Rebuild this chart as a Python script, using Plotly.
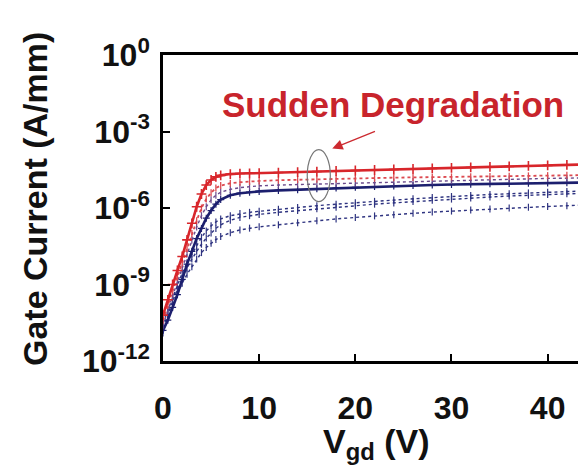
import plotly.graph_objects as go

# Gate voltage points (V)
vgd = [0, 0.5, 1, 1.5, 2, 2.5, 3, 3.5, 4, 4.5, 5, 5.5, 6, 7, 8, 9, 10,
       12, 14, 16, 18, 20, 22, 24, 26, 28, 30, 32, 34, 36, 38, 40, 42, 44]

# log10 of gate current (A/mm)
red_solid = [-10.2, -9.6, -9.0, -8.45, -7.9, -7.25, -6.6, -5.95, -5.45, -5.1, -4.9, -4.78, -4.72, -4.67, -4.65, -4.64, -4.63,
             -4.61, -4.59, -4.57, -4.55, -4.53, -4.51, -4.49, -4.47, -4.45, -4.43, -4.41, -4.39, -4.37, -4.35, -4.33, -4.31, -4.29]
red_dotted = [-10.4, -9.8, -9.25, -8.7, -8.15, -7.6, -7.0, -6.5, -6.0, -5.65, -5.4, -5.22, -5.12, -5.03, -4.99, -4.96, -4.94,
              -4.91, -4.89, -4.87, -4.86, -4.84, -4.83, -4.81, -4.80, -4.79, -4.78, -4.77, -4.76, -4.75, -4.74, -4.73, -4.72, -4.71]
purple_dotted = [-10.6, -10.0, -9.45, -8.9, -8.35, -7.8, -7.25, -6.75, -6.3, -5.95, -5.68, -5.5, -5.38, -5.27, -5.2, -5.16, -5.13,
                 -5.1, -5.08, -5.06, -5.04, -5.02, -5.0, -4.98, -4.96, -4.94, -4.92, -4.90, -4.88, -4.86, -4.85, -4.84, -4.83, -4.82]
blue_solid = [-10.8, -10.4, -9.9, -9.4, -8.8, -8.2, -7.7, -7.2, -6.8, -6.4, -6.1, -5.85, -5.67, -5.5, -5.42, -5.38, -5.35,
              -5.31, -5.28, -5.25, -5.22, -5.19, -5.16, -5.14, -5.12, -5.10, -5.08, -5.07, -5.05, -5.04, -5.03, -5.02, -5.01, -5.0]
blue_dotted_1 = [-10.5, -10.0, -9.5, -9.0, -8.55, -8.15, -7.8, -7.45, -7.15, -6.9, -6.7, -6.55, -6.43, -6.3, -6.22, -6.17, -6.13,
                 -6.05, -5.98, -5.91, -5.85, -5.79, -5.74, -5.69, -5.64, -5.59, -5.55, -5.51, -5.47, -5.44, -5.41, -5.38, -5.35, -5.33]
blue_dotted_2 = [-10.7, -10.15, -9.65, -9.2, -8.75, -8.35, -8.0, -7.7, -7.42, -7.18, -6.98, -6.8, -6.66, -6.48, -6.37, -6.3, -6.25,
                 -6.17, -6.1, -6.03, -5.97, -5.91, -5.85, -5.8, -5.75, -5.7, -5.65, -5.61, -5.57, -5.53, -5.5, -5.47, -5.44, -5.42]
blue_dotted_3 = [-10.9, -10.3, -9.8, -9.35, -8.95, -8.6, -8.3, -8.0, -7.75, -7.55, -7.38, -7.24, -7.12, -6.97, -6.86, -6.79, -6.74,
                 -6.66, -6.58, -6.5, -6.43, -6.37, -6.31, -6.26, -6.21, -6.16, -6.12, -6.08, -6.04, -6.0, -5.97, -5.94, -5.91, -5.88]

y_tickvals = [1e-12, 1e-9, 1e-6, 1e-3, 1]
y_ticktext = ["10<sup>-12</sup>", "10<sup>-9</sup>", "10<sup>-6</sup>", "10<sup>-3</sup>", "10<sup>0</sup>"]
x_tickvals = [0, 10, 20, 30, 40]
x_ticktext = ["0", "10", "20", "30", "40"]

RED = "#d8262b"
LRED = "#dc4a50"
PURP = "#6b4a8c"
NAVY = "#1c1f6e"
BLUE = "#2e3380"

def lin(v):
    return [10 ** a for a in v]

fig = go.Figure()

def add(ys, color, dash, width, symbol, msize, mw):
    fig.add_trace(go.Scatter(
        x=vgd, y=lin(ys), mode="lines+markers",
        line=dict(color=color, width=width, dash=dash),
        marker=dict(symbol=symbol, size=msize, color=color, line=dict(color=color, width=mw)),
        showlegend=False))

add(blue_dotted_3, BLUE, "dot", 1.4, "line-ns-open", 5, 1.2)
add(blue_dotted_2, BLUE, "dot", 1.4, "line-ns-open", 5, 1.2)
add(blue_dotted_1, BLUE, "dot", 1.4, "line-ns-open", 5, 1.2)
add(blue_solid, NAVY, "solid", 2.6, "cross-thin-open", 5, 1.2)
add(purple_dotted, PURP, "dot", 1.4, "line-ns-open", 5, 1.2)
add(red_dotted, LRED, "dot", 1.8, "line-ns-open", 5, 1.3)
add(red_solid, RED, "solid", 2.6, "cross-thin-open", 7, 1.6)

FONT = "Liberation Sans, Arial, sans-serif"

fig.update_layout(
    width=586, height=466,
    margin=dict(l=155, r=2, t=47, b=113),
    paper_bgcolor="white", plot_bgcolor="white",
    xaxis=dict(
        range=[0, 44.3], tickvals=x_tickvals, ticktext=x_ticktext,
        ticks="inside", ticklen=7, tickwidth=2, tickcolor="black",
        showline=True, linecolor="black", linewidth=2.5, mirror=True,
        showgrid=False, zeroline=False,
        tickfont=dict(family=FONT, size=32, color="#111", weight="bold"),
        ticklabelstandoff=17,
    ),
    yaxis=dict(
        type="log", range=[-12, 0], tickvals=y_tickvals, ticktext=y_ticktext,
        ticks="inside", ticklen=7, tickwidth=2, tickcolor="black",
        showline=True, linecolor="black", linewidth=2.5, mirror=True,
        showgrid=False, zeroline=False,
        tickfont=dict(family=FONT, size=32, color="#111", weight="bold"),
        ticklabelstandoff=4,
    ),
    annotations=[
        dict(text="Gate Current (A/mm)", xref="paper", yref="paper", x=-0.30, y=0.53,
             textangle=-90, showarrow=False, xanchor="center", yanchor="middle",
             font=dict(family=FONT, size=34, color="#111", weight="bold")),
        dict(text="V<sub>gd</sub> (V)", xref="paper", yref="paper", x=0.50, y=-0.27,
             showarrow=False, xanchor="center", yanchor="middle",
             font=dict(family=FONT, size=34, color="#111", weight="bold")),
        dict(text="Sudden Degradation", xref="paper", yref="paper", x=0.541, y=0.837,
             showarrow=False, xanchor="center", yanchor="middle",
             font=dict(family=FONT, size=35, color="#c8242c", weight="bold")),
        dict(text="", x=17.6, y=-3.67, xref="x", yref="y", ax=22.2, ay=-2.97, axref="x", ayref="y",
             showarrow=True, arrowhead=2, arrowsize=1.6, arrowwidth=1.3, arrowcolor="#cc2a30"),
    ],
    shapes=[
        dict(type="circle", xref="x", yref="y", x0=15.0, x1=17.4, y0=10 ** -5.75, y1=10 ** -3.71,
             line=dict(color="#777777", width=1.2)),
    ],
)

fig.write_html("out.html")
